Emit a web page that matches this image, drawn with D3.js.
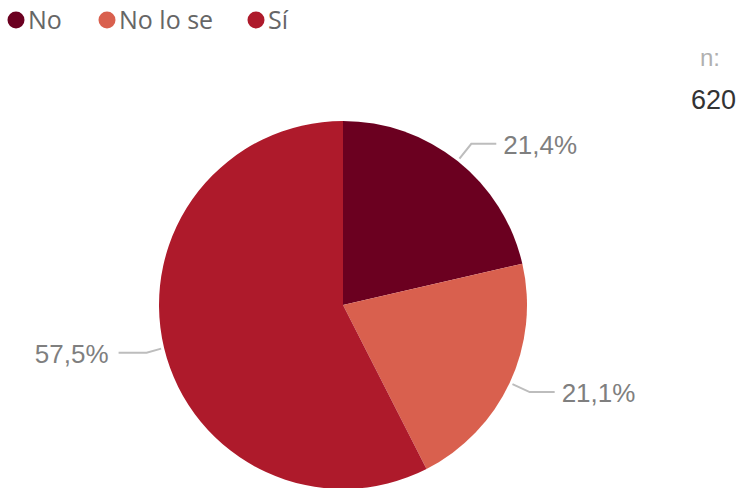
<!DOCTYPE html>
<html><head><meta charset="utf-8">
<script src="https://cdn.jsdelivr.net/npm/d3@7"></script>
<style>body{margin:0;background:#fff;}</style>
</head><body>
<script>
const categories = ["No", "No lo se", "Sí"];
const values = [21.4, 21.1, 57.5];
const colors = ["#6b0020", "#d9604e", "#ae1a2b"];
const nLabel = "n:";
const nValue = "620";

const W = 743, H = 488;
const svg = d3.select("body").append("svg").attr("width", W).attr("height", H);
const cx = 343, cy = 305, R = 184;

const pie = d3.pie().sort(null).value(d => d)(values);
const arc = d3.arc().innerRadius(0).outerRadius(R);
const g = svg.append("g").attr("transform", `translate(${cx},${cy})`);
g.selectAll("path").data(pie).join("path")
  .attr("d", arc).attr("fill", (d, i) => colors[i]);

const fmt = v => d3.format(".1f")(v).replace(".", ",") + "%";
pie.forEach((d, i) => {
  const a = (d.startAngle + d.endAngle) / 2;
  const p0 = [Math.sin(a) * (R + 3), -Math.cos(a) * (R + 3)];
  const right = Math.sin(a) >= 0;
  const p1 = [Math.sin(a) * (R + 22), -Math.cos(a) * (R + 22)];
  if (!right) { p1[0] = Math.sin(a) * (R + 18); p1[1] = p0[1] + 4; }
  const p2 = [p1[0] + (right ? 25 : -28), p1[1]];
  g.append("polyline").attr("points", [p0, p1, p2].map(p => p.join(",")).join(" "))
    .attr("fill", "none").attr("stroke", "#bdbdbd").attr("stroke-width", 2);
  g.append("text").attr("x", p2[0] + (right ? 7 : -10)).attr("y", p2[1] + 1)
    .attr("dy", "0.35em").attr("text-anchor", right ? "start" : "end")
    .attr("font-family", "Liberation Sans, Arial, sans-serif").attr("font-size", 26)
    .attr("fill", "#7f7f7f").text(fmt(values[i]));
});

// legend
const legX = [16, 107, 256];
categories.forEach((c, i) => {
  svg.append("circle").attr("cx", legX[i]).attr("cy", 20).attr("r", 8.5).attr("fill", colors[i]);
  svg.append("text").attr("x", legX[i] + 12).attr("y", 20).attr("dy", "0.35em")
    .attr("font-family", "Open Sans, sans-serif").attr("font-size", 25)
    .attr("fill", "#666").text(c);
});

svg.append("text").attr("x", 720).attr("y", 58).attr("dy", "0.35em").attr("text-anchor", "end")
  .attr("font-family", "Liberation Sans, Arial, sans-serif").attr("font-size", 24)
  .attr("fill", "#b0b0b0").text(nLabel);
svg.append("text").attr("x", 736).attr("y", 100).attr("dy", "0.35em").attr("text-anchor", "end")
  .attr("font-family", "Liberation Sans, Arial, sans-serif").attr("font-size", 27)
  .attr("fill", "#333").text(nValue);
</script>
</body></html>
